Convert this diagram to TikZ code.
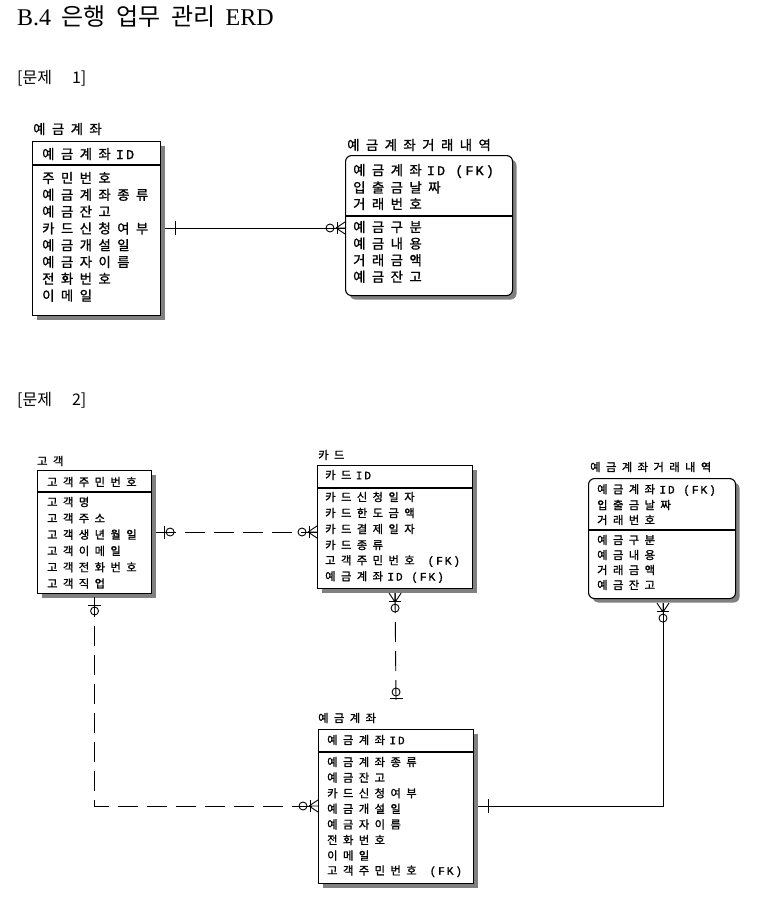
\documentclass[tikz,border=0pt]{standalone}
\usepackage{fontspec}
\setmainfont{Liberation Serif}
\newfontfamily\krfont{Noto Sans CJK KR}
\newfontfamily\krsp[LetterSpace=48,FakeBold=1.2]{Noto Sans CJK KR}
\newfontfamily\latsp[LetterSpace=16,FakeBold=1.2]{Liberation Mono}
\newcommand{\lat}[1]{\kern0.38em{\latsp #1}}
\usetikzlibrary{shadows,calc}
\tikzset{
  ent/.style={draw, line width=1.1pt, fill=white, inner sep=0pt, anchor=north west,
    drop shadow={shadow xshift=4pt, shadow yshift=-4pt, fill=black!50, opacity=1}},
  rent/.style={ent, rounded corners=6pt},
  divline/.style={line width=1.1pt},
  attrA/.style={anchor=west, inner sep=0pt, font={\fontsize{13.4}{15}\selectfont\krsp}},
  attrB/.style={anchor=west, inner sep=0pt, font={\fontsize{11.3}{14}\selectfont\krsp}},
  conn/.style={line width=0.9pt},
  dconn/.style={line width=0.9pt, dash pattern=on 20pt off 9pt},
  sym/.style={line width=0.9pt},
  manyopt/.pic={
    \draw[sym] (-15,0) circle[radius=4];
    \draw[sym] (-8,-6) -- (-8,6);
    \draw[sym] (-9,0) -- (0,-6) (-9,0) -- (0,0) (-9,0) -- (0,6);
  },
  oneopt/.pic={
    \draw[sym] (-8,-6.5) -- (-8,6.5);
    \draw[sym] (-14,0) circle[radius=4];
  },
  onlyone/.pic={
    \draw[sym] (-10,-7) -- (-10,7);
  }
}
\begin{document}
\begin{tikzpicture}[x=1pt,y=-1pt]
\useasboundingbox[fill=white] (0,0) rectangle (757,905);

% headings
\node[anchor=west, inner sep=0pt, font={\fontsize{24}{26}\selectfont}] (title) at (17,17)
  {B.4\hspace{10.5pt}{\krfont 은행}\hspace{10.5pt}{\krfont 업무}\hspace{10.5pt}{\krfont 관리}\hspace{10.5pt}ERD};
\node[anchor=west, inner sep=0pt, font={\fontsize{16}{18}\selectfont\krfont}] (h1) at (17,78) {[문제\hspace{20pt}1]};
\node[anchor=west, inner sep=0pt, font={\fontsize{16}{18}\selectfont\krfont}] (h2) at (17,400) {[문제\hspace{20pt}2]};

% ---------------- Problem 1 ----------------
\node[ent, minimum width=128, minimum height=174] (E1) at (32,141) {};
\draw[divline] (E1.west |- 0,165) -- (E1.east |- 0,165);
\node[attrA] (E1t) at (33,129) {예금계좌};
\node[attrA] (E1k) at (42,154) {예금계좌\lat{ID}};
\foreach \t [count=\i] in {주민번호,예금계좌종류,예금잔고,카드신청여부,예금개설일,예금자이름,전화번호,이메일}
  \node[attrA] (E1a\i) at (42,{178+16.8*(\i-1)}) {\t};

\node[rent, minimum width=167, minimum height=140] (E2) at (345,155) {};
\draw[divline] (E2.west |- 0,216) -- (E2.east |- 0,216);
\node[attrA] (E2t) at (347,145) {예금계좌거래내역};
\foreach \t [count=\i] in {예금계좌\lat{ID (FK)},입출금날짜,거래번호}
  \node[attrA] (E2k\i) at (353,{171+16.5*(\i-1)}) {\t};
\foreach \t [count=\i] in {예금구분,예금내용,거래금액,예금잔고}
  \node[attrA] (E2a\i) at (353,{227+16.6*(\i-1)}) {\t};

\coordinate (p1s) at ($(E1.east |- 0,228)+(4,0)$);
\coordinate (p1e) at (E2.west |- 0,228);
\draw[conn] (p1s) -- (p1e);
\pic[rotate=180] at (p1s) {onlyone};
\pic at (p1e) {manyopt};

% ---------------- Problem 2 ----------------
% customer
\node[ent, minimum width=114, minimum height=123] (C) at (37,470) {};
\draw[divline] (C.west |- 0,492) -- (C.east |- 0,492);
\node[attrB] (Ct) at (37,461) {고객};
\node[attrB] (Ck) at (47,482) {고객주민번호};
\foreach \t [count=\i] in {고객명,고객주소,고객생년월일,고객이메일,고객전화번호,고객직업}
  \node[attrB] (Ca\i) at (47,{502+16.3*(\i-1)}) {\t};

% card
\node[ent, minimum width=155, minimum height=123] (K) at (317,465) {};
\draw[divline] (K.west |- 0,488) -- (K.east |- 0,488);
\node[attrB] (Kt) at (318,455) {카드};
\node[attrB] (Kk) at (325,475) {카드\lat{ID}};
\foreach \t [count=\i] in {카드신청일자,카드한도금액,카드결제일자,카드종류,고객주민번호\lat{\ (FK)},예금계좌\lat{ID (FK)}}
  \node[attrB] (Ka\i) at (325,{497+16*(\i-1)}) {\t};

% account
\node[ent, minimum width=155, minimum height=154] (A) at (318,729) {};
\draw[divline] (A.west |- 0,752) -- (A.east |- 0,752);
\node[attrB] (At) at (318,718) {예금계좌};
\node[attrB] (Ak) at (327,740) {예금계좌\lat{ID}};
\foreach \t [count=\i] in {예금계좌종류,예금잔고,카드신청여부,예금개설일,예금자이름,전화번호,이메일,고객주민번호\lat{\ (FK)}}
  \node[attrB] (Aa\i) at (327,{762+15.6*(\i-1)}) {\t};

% transactions
\node[rent, minimum width=147, minimum height=120] (T) at (588,478) {};
\draw[divline] (T.west |- 0,530) -- (T.east |- 0,530);
\node[attrB] (Tt) at (590,467) {예금계좌거래내역};
\foreach \t [count=\i] in {예금계좌\lat{ID (FK)},입출금날짜,거래번호}
  \node[attrB] (Tk\i) at (597,{490+15*(\i-1)}) {\t};
\foreach \t [count=\i] in {예금구분,예금내용,거래금액,예금잔고}
  \node[attrB] (Ta\i) at (597,{540+15*(\i-1)}) {\t};

% customer - card
\coordinate (ck1) at ($(C.east |- 0,532)+(4,0)$);
\coordinate (ck2) at (K.west |- 0,532);
\draw[dconn] (ck1) -- (ck2);
\pic[rotate=180] at (ck1) {oneopt};
\pic at (ck2) {manyopt};

% card - account
\coordinate (ka1) at ($(K.south)+(0,4)$);
\coordinate (ka2) at (A.north |- 0,706);
\draw[dconn] (ka1) -- (ka2);
\pic[rotate=90] at (ka1) {manyopt};
\pic[rotate=-90] at (ka2) {oneopt};

% customer - account
\coordinate (ca1) at ($(C.south |- 0,593)+(0,4)$);
\coordinate (ca2) at (A.west |- 0,806);
\draw[dconn] (ca1) |- (ca2);
\pic[rotate=90] at (ca1) {oneopt};
\pic at (ca2) {manyopt};

% account - transactions
\coordinate (at1) at ($(A.east |- 0,806)+(4,0)$);
\coordinate (at2) at ($(T.south -| 663,0)+(0,4)$);
\draw[conn] (at1) -| (at2);
\pic[rotate=180] at (at1) {onlyone};
\pic[rotate=90] at (at2) {manyopt};
\end{tikzpicture}
\end{document}
